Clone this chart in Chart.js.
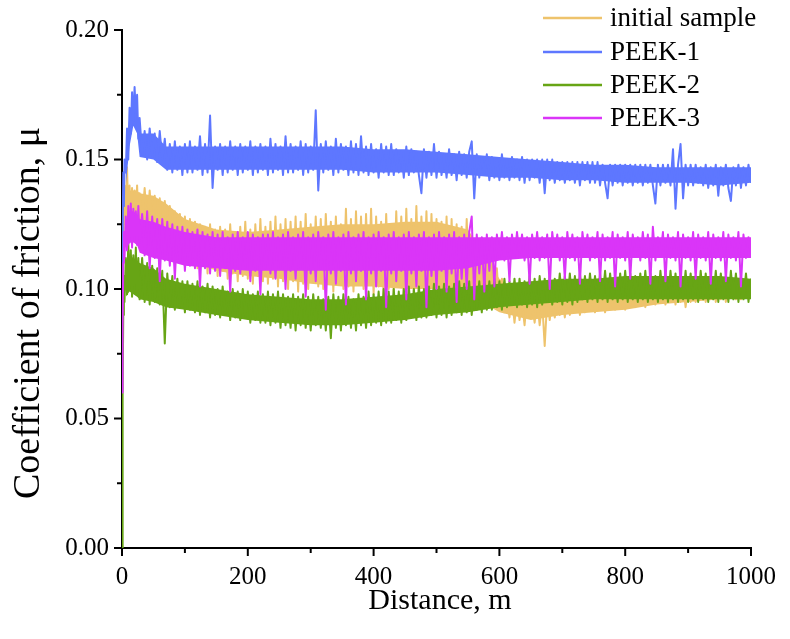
<!DOCTYPE html>
<html>
<head>
<meta charset="utf-8">
<script src="https://cdn.jsdelivr.net/npm/chart.js@4"></script>
<style>
html,body{margin:0;padding:0;background:#fff;}
#wrap{width:790px;height:639px;position:relative;}
</style>
</head>
<body>
<div id="wrap"><canvas id="c" width="790" height="639"></canvas></div>
<script>
const seriesNames = ['initial sample', 'PEEK-1', 'PEEK-2', 'PEEK-3'];
const seriesColors = ['#EEC36C', '#5E77FF', '#67A515', '#DA35F8'];
const xTickLabels = ['0', '200', '400', '600', '800', '1000'];
const yTickLabels = ['0.00', '0.05', '0.10', '0.15', '0.20'];
const xTitle = 'Distance, m';
const yTitle = 'Coefficient of friction, μ';

const distances = [0,1,2,3,4,6,8,10,12,14,16,18,20,22,24,26,
28,32,36,40,44,48,52,56,60,64,
68,72,76,80,84,88,92,96,100,104,
108,112,116,120,124,128,132,136,140,144,
148,152,156,160,164,168,172,176,180,184,
188,192,196,200,204,208,212,216,220,224,
228,232,236,240,244,248,252,256,260,264,
268,272,276,280,284,288,292,296,300,304,
308,312,316,320,324,328,332,336,340,344,
348,352,356,360,364,368,372,376,380,384,
388,392,396,400,404,408,412,416,420,424,
428,432,436,440,444,448,452,456,460,464,
468,472,476,480,484,488,492,496,500,504,
508,512,516,520,524,528,532,536,540,544,
548,552,556,560,564,568,572,576,580,584,
588,592,596,600,604,608,612,616,620,624,
628,632,636,640,644,648,652,656,660,664,
668,672,676,680,684,688,692,696,700,704,
708,712,716,720,724,728,732,736,740,744,
748,752,756,760,764,768,772,776,780,784,
788,792,796,800,804,808,812,816,820,824,
828,832,836,840,844,848,852,856,860,864,
868,872,876,880,884,888,892,896,900,904,
908,912,916,920,924,928,932,936,940,944,
948,952,956,960,964,968,972,976,980,984,
988,992,996,1000];

const initialSample = [0.082,0.095,0.115,0.130,0.140,0.125,0.147,0.128,0.140,0.126,0.139,0.127,0.138,0.128,0.140,0.127,
0.137,0.126,0.139,0.125,0.138,0.124,0.136,0.123,0.135,0.122,
0.134,0.120,0.132,0.118,0.130,0.116,0.129,0.113,0.128,0.111,
0.127,0.110,0.126,0.108,0.125,0.110,0.124,0.106,0.125,0.108,
0.123,0.105,0.124,0.107,0.123,0.104,0.125,0.106,0.122,0.103,
0.124,0.105,0.126,0.104,0.123,0.102,0.125,0.105,0.127,0.103,
0.124,0.102,0.126,0.104,0.128,0.101,0.125,0.103,0.127,0.100,
0.126,0.103,0.128,0.099,0.126,0.102,0.129,0.100,0.125,0.103,
0.128,0.101,0.127,0.100,0.129,0.104,0.126,0.099,0.128,0.102,
0.125,0.100,0.131,0.101,0.127,0.099,0.130,0.103,0.128,0.100,
0.129,0.102,0.131,0.098,0.128,0.101,0.126,0.097,0.129,0.100,
0.125,0.099,0.130,0.101,0.128,0.098,0.131,0.100,0.127,0.099,
0.132,0.098,0.128,0.101,0.130,0.097,0.129,0.100,0.127,0.099,
0.126,0.098,0.128,0.096,0.127,0.099,0.125,0.097,0.124,0.096,
0.127,0.098,0.118,0.095,0.117,0.094,0.115,0.096,0.113,0.093,
0.110,0.094,0.108,0.092,0.104,0.091,0.098,0.089,0.097,0.087,
0.096,0.088,0.095,0.086,0.097,0.089,0.094,0.087,0.096,0.086,
0.095,0.078,0.096,0.088,0.097,0.089,0.096,0.090,0.097,0.089,
0.097,0.090,0.098,0.091,0.097,0.090,0.098,0.091,0.098,0.092,
0.099,0.091,0.098,0.092,0.099,0.091,0.099,0.093,0.100,0.092,
0.099,0.093,0.100,0.092,0.099,0.094,0.101,0.093,0.100,0.094,
0.101,0.093,0.100,0.095,0.101,0.094,0.100,0.095,0.101,0.094,
0.101,0.095,0.102,0.094,0.101,0.095,0.102,0.093,0.101,0.095,
0.102,0.095,0.101,0.096,0.102,0.095,0.101,0.096,0.102,0.095,
0.101,0.096,0.102,0.095,0.101,0.097,0.102,0.096,0.101,0.096,
0.102,0.097,0.101,0.097];

const peek1 = [0.080,0.120,0.145,0.132,0.150,0.145,0.162,0.150,0.170,0.160,0.176,0.165,0.178,0.168,0.175,0.158,
0.166,0.152,0.161,0.150,0.162,0.151,0.160,0.149,0.161,0.150,
0.158,0.146,0.156,0.145,0.157,0.146,0.155,0.144,0.156,0.145,
0.157,0.145,0.155,0.146,0.159,0.144,0.156,0.145,0.167,0.139,
0.155,0.146,0.156,0.144,0.155,0.145,0.157,0.146,0.155,0.144,
0.156,0.145,0.155,0.146,0.157,0.144,0.155,0.145,0.156,0.146,
0.155,0.144,0.158,0.145,0.156,0.146,0.155,0.144,0.159,0.145,
0.156,0.145,0.155,0.146,0.157,0.144,0.156,0.145,0.155,0.146,
0.169,0.138,0.156,0.145,0.157,0.146,0.155,0.144,0.158,0.145,
0.156,0.146,0.155,0.144,0.157,0.145,0.156,0.144,0.159,0.145,
0.155,0.144,0.156,0.145,0.154,0.143,0.156,0.145,0.155,0.144,
0.156,0.144,0.154,0.145,0.153,0.143,0.155,0.144,0.154,0.145,
0.153,0.144,0.137,0.154,0.143,0.153,0.144,0.156,0.143,0.153,
0.144,0.152,0.143,0.154,0.144,0.152,0.142,0.153,0.144,0.152,
0.143,0.153,0.157,0.135,0.152,0.143,0.151,0.144,0.152,0.142,
0.151,0.143,0.150,0.142,0.152,0.143,0.150,0.142,0.151,0.143,
0.150,0.142,0.151,0.141,0.150,0.142,0.150,0.143,0.150,0.141,
0.150,0.137,0.150,0.142,0.150,0.141,0.149,0.142,0.149,0.141,
0.149,0.142,0.149,0.141,0.149,0.140,0.149,0.142,0.149,0.141,
0.149,0.141,0.149,0.140,0.148,0.141,0.135,0.148,0.140,0.148,
0.141,0.148,0.140,0.148,0.141,0.148,0.140,0.148,0.141,0.148,
0.140,0.148,0.141,0.148,0.140,0.133,0.148,0.140,0.148,0.141,
0.148,0.140,0.154,0.131,0.148,0.156,0.135,0.148,0.140,0.148,
0.140,0.148,0.141,0.147,0.140,0.148,0.139,0.147,0.140,0.148,
0.136,0.147,0.140,0.148,0.139,0.134,0.147,0.140,0.148,0.139,
0.147,0.140,0.148,0.141];

const peek2 = [0.000,0.060,0.090,0.105,0.095,0.112,0.098,0.118,0.100,0.115,0.097,0.113,0.099,0.116,0.098,0.112,
0.096,0.112,0.095,0.110,0.094,0.109,0.095,0.108,0.094,0.107,
0.079,0.106,0.093,0.105,0.092,0.104,0.093,0.103,0.091,0.103,
0.092,0.102,0.091,0.103,0.090,0.101,0.091,0.102,0.089,0.101,
0.090,0.100,0.089,0.101,0.090,0.099,0.088,0.100,0.089,0.099,
0.088,0.100,0.089,0.099,0.087,0.098,0.088,0.099,0.087,0.098,
0.087,0.099,0.086,0.098,0.087,0.099,0.085,0.098,0.086,0.097,
0.085,0.098,0.084,0.097,0.086,0.098,0.085,0.097,0.084,0.098,
0.086,0.097,0.085,0.096,0.084,0.097,0.081,0.098,0.085,0.097,
0.084,0.098,0.086,0.097,0.085,0.096,0.084,0.098,0.086,0.097,
0.085,0.099,0.086,0.098,0.087,0.099,0.086,0.100,0.087,0.099,
0.087,0.100,0.088,0.099,0.087,0.100,0.088,0.101,0.089,0.100,
0.088,0.101,0.089,0.100,0.089,0.101,0.090,0.102,0.089,0.101,
0.090,0.102,0.089,0.101,0.090,0.102,0.091,0.103,0.090,0.102,
0.091,0.103,0.090,0.102,0.092,0.103,0.091,0.104,0.092,0.103,
0.092,0.104,0.093,0.103,0.092,0.104,0.093,0.103,0.094,0.104,
0.093,0.104,0.094,0.103,0.093,0.105,0.094,0.104,0.093,0.105,
0.094,0.104,0.095,0.105,0.094,0.104,0.095,0.106,0.094,0.105,
0.095,0.106,0.094,0.105,0.095,0.106,0.096,0.105,0.095,0.106,
0.096,0.105,0.095,0.106,0.096,0.107,0.095,0.106,0.096,0.105,
0.095,0.106,0.096,0.107,0.095,0.106,0.096,0.105,0.095,0.106,
0.096,0.107,0.095,0.106,0.096,0.105,0.095,0.107,0.096,0.106,
0.095,0.107,0.096,0.106,0.095,0.105,0.096,0.107,0.095,0.106,
0.096,0.105,0.095,0.107,0.096,0.106,0.095,0.105,0.096,0.107,
0.095,0.106,0.096,0.105,0.095,0.107,0.096,0.106,0.095,0.105,
0.096,0.106,0.095,0.104];

const peek3 = [0.060,0.085,0.110,0.122,0.112,0.128,0.115,0.132,0.118,0.133,0.116,0.131,0.119,0.130,0.117,0.132,
0.118,0.129,0.113,0.130,0.108,0.128,0.112,0.127,0.103,0.127,
0.111,0.126,0.109,0.125,0.104,0.124,0.110,0.124,0.107,0.123,
0.109,0.122,0.108,0.123,0.101,0.122,0.108,0.121,0.106,0.122,
0.107,0.121,0.105,0.122,0.108,0.120,0.099,0.121,0.107,0.122,
0.106,0.120,0.108,0.122,0.103,0.121,0.107,0.120,0.098,0.121,
0.108,0.121,0.106,0.122,0.104,0.120,0.108,0.121,0.100,0.122,
0.107,0.120,0.104,0.121,0.108,0.122,0.097,0.120,0.106,0.121,
0.103,0.122,0.108,0.120,0.092,0.121,0.106,0.122,0.102,0.120,
0.107,0.121,0.094,0.122,0.106,0.120,0.103,0.121,0.107,0.122,
0.096,0.120,0.106,0.121,0.101,0.122,0.107,0.120,0.093,0.121,
0.106,0.122,0.103,0.120,0.107,0.121,0.096,0.122,0.106,0.120,
0.101,0.121,0.107,0.122,0.093,0.120,0.105,0.121,0.100,0.122,
0.107,0.120,0.099,0.121,0.106,0.122,0.095,0.120,0.104,0.121,
0.100,0.122,0.128,0.096,0.121,0.106,0.120,0.099,0.121,0.107,
0.120,0.101,0.121,0.112,0.122,0.111,0.120,0.103,0.121,0.112,
0.122,0.113,0.121,0.111,0.120,0.102,0.121,0.112,0.122,0.111,
0.120,0.112,0.121,0.100,0.122,0.113,0.121,0.111,0.120,0.104,
0.122,0.112,0.121,0.111,0.120,0.102,0.122,0.113,0.121,0.111,
0.120,0.112,0.122,0.103,0.121,0.111,0.120,0.112,0.122,0.101,
0.121,0.112,0.120,0.111,0.122,0.104,0.121,0.113,0.120,0.111,
0.122,0.112,0.121,0.102,0.124,0.111,0.120,0.113,0.122,0.103,
0.121,0.112,0.120,0.111,0.122,0.101,0.121,0.112,0.120,0.111,
0.122,0.104,0.121,0.112,0.120,0.111,0.122,0.102,0.121,0.112,
0.120,0.111,0.122,0.103,0.121,0.112,0.120,0.111,0.122,0.101,
0.121,0.112,0.120,0.113];

// dense-noise band of each trace (upper / lower edge of the solid part)
const bandDistances = [6,12,18,24,28,50,70,100,150,200,250,300,350,400,450,500,550,600,650,700,750,800,850,900,950,1000];
const initialSampleBandHigh = [0.135,0.138,0.138,0.138,0.137,0.136,0.133,0.127,0.123,0.122,0.123,0.124,0.125,0.125,0.126,0.126,0.123,0.104,0.095,0.096,0.097,0.098,0.099,0.100,0.100,0.100];
const initialSampleBandLow  = [0.126,0.128,0.128,0.127,0.124,0.123,0.120,0.112,0.107,0.105,0.104,0.102,0.101,0.101,0.100,0.100,0.098,0.091,0.088,0.090,0.091,0.092,0.094,0.095,0.096,0.097];
const peek1BandHigh = [0.150,0.168,0.174,0.170,0.160,0.160,0.155,0.155,0.155,0.155,0.155,0.155,0.155,0.154,0.154,0.153,0.152,0.151,0.150,0.149,0.148,0.148,0.147,0.147,0.147,0.147];
const peek1BandLow  = [0.140,0.155,0.163,0.160,0.151,0.150,0.146,0.146,0.146,0.146,0.146,0.146,0.146,0.145,0.145,0.145,0.144,0.143,0.143,0.142,0.142,0.141,0.141,0.141,0.140,0.141];
const peek2BandHigh = [0.110,0.113,0.112,0.111,0.110,0.108,0.104,0.102,0.100,0.098,0.097,0.096,0.096,0.097,0.098,0.100,0.101,0.102,0.103,0.104,0.104,0.105,0.105,0.105,0.105,0.104];
const peek2BandLow  = [0.097,0.099,0.098,0.097,0.096,0.095,0.093,0.092,0.090,0.088,0.087,0.086,0.086,0.087,0.088,0.090,0.091,0.093,0.094,0.095,0.096,0.096,0.096,0.096,0.096,0.096];
const peek3BandHigh = [0.126,0.130,0.130,0.129,0.127,0.126,0.124,0.122,0.120,0.120,0.120,0.120,0.120,0.120,0.120,0.120,0.120,0.120,0.120,0.120,0.120,0.120,0.120,0.120,0.120,0.120];
const peek3BandLow  = [0.114,0.118,0.118,0.117,0.114,0.112,0.111,0.109,0.108,0.107,0.107,0.107,0.107,0.107,0.107,0.107,0.108,0.111,0.112,0.112,0.112,0.112,0.112,0.112,0.112,0.112];

const seriesValues = [initialSample, peek1, peek2, peek3];
const bandHigh = [initialSampleBandHigh, peek1BandHigh, peek2BandHigh, peek3BandHigh];
const bandLow = [initialSampleBandLow, peek1BandLow, peek2BandLow, peek3BandLow];

const datasets = [];
seriesValues.forEach((vals, i) => {
  const base = (4 - i) * 3;
  datasets.push({
    label: seriesNames[i] + ' band top',
    data: bandHigh[i].map((v, j) => ({ x: bandDistances[j], y: v })),
    borderWidth: 0, pointRadius: 0, tension: 0,
    backgroundColor: seriesColors[i],
    fill: '+1',
    order: base
  });
  datasets.push({
    label: seriesNames[i] + ' band bottom',
    data: bandLow[i].map((v, j) => ({ x: bandDistances[j], y: v })),
    borderWidth: 0, pointRadius: 0, tension: 0,
    fill: false,
    order: base - 1
  });
  datasets.push({
    label: seriesNames[i],
    data: vals.map((v, j) => ({ x: distances[j], y: v })),
    borderColor: seriesColors[i],
    borderWidth: 2,
    borderJoinStyle: 'round',
    pointRadius: 0,
    tension: 0,
    fill: false,
    order: base - 2
  });
});

const FONT = '"Liberation Serif", "Times New Roman", serif';

const axisDecor = {
  id: 'axisDecor',
  afterDraw(chart) {
    const ctx = chart.ctx;
    ctx.save();
    ctx.strokeStyle = '#000';
    ctx.lineWidth = 2;
    const xs = chart.scales.x, ys = chart.scales.y;
    xs.ticks.forEach((t, i) => {
      const p = xs.getPixelForValue(t.value);
      const len = (i % 2 === 0) ? 8 : 5;
      ctx.beginPath();
      ctx.moveTo(p, xs.top);
      ctx.lineTo(p, xs.top + len);
      ctx.stroke();
    });
    ys.ticks.forEach((t, i) => {
      const p = ys.getPixelForValue(t.value);
      const len = (i % 2 === 0) ? 8 : 5;
      ctx.beginPath();
      ctx.moveTo(ys.right, p);
      ctx.lineTo(ys.right - len, p);
      ctx.stroke();
    });
    ctx.fillStyle = '#000';
    ctx.textAlign = 'center';
    ctx.textBaseline = 'alphabetic';
    ctx.font = '30px ' + FONT;
    ctx.fillText(xTitle, 440, 609);
    ctx.translate(39, 313);
    ctx.rotate(-Math.PI / 2);
    ctx.font = '38px ' + FONT;
    ctx.fillText(yTitle, 0, 0);
    ctx.restore();
  }
};

const customLegend = {
  id: 'customLegend',
  afterDraw(chart) {
    const ctx = chart.ctx;
    ctx.save();
    const rows = [18, 52, 85, 118];
    ctx.font = '27px ' + FONT;
    ctx.textBaseline = 'middle';
    ctx.textAlign = 'left';
    ctx.fillStyle = '#000';
    seriesNames.forEach((name, i) => {
      ctx.strokeStyle = seriesColors[i];
      ctx.lineWidth = 2.5;
      ctx.beginPath();
      ctx.moveTo(543, rows[i]);
      ctx.lineTo(602, rows[i]);
      ctx.stroke();
      ctx.fillText(name, 610, rows[i] + 1);
    });
    ctx.restore();
  }
};

new Chart(document.getElementById('c'), {
  type: 'line',
  data: { datasets },
  options: {
    responsive: false,
    animation: false,
    layout: { padding: { left: 0, top: 30, right: 26, bottom: 0 } },
    plugins: { legend: { display: false }, tooltip: { enabled: false }, filler: { propagate: false } },
    scales: {
      x: {
        type: 'linear',
        min: 0, max: 1000,
        grid: { display: false, drawTicks: false },
        border: { display: true, color: '#000', width: 2 },
        ticks: {
          stepSize: 100, autoSkip: false, maxRotation: 0,
          color: '#000', padding: 14,
          font: { family: FONT, size: 25 },
          callback: (v, i) => (i % 2 === 0 ? xTickLabels[i / 2] : '')
        },
        afterFit: (s) => { s.height = 639 - 548; }
      },
      y: {
        type: 'linear',
        min: 0, max: 0.2,
        grid: { display: false, drawTicks: false },
        border: { display: true, color: '#000', width: 2 },
        ticks: {
          stepSize: 0.025, autoSkip: false,
          color: '#000', padding: 13,
          font: { family: FONT, size: 25 },
          callback: (v, i) => (i % 2 === 0 ? yTickLabels[i / 2] : '')
        },
        afterFit: (s) => { s.width = 122; }
      }
    }
  },
  plugins: [axisDecor, customLegend]
});
</script>
</body>
</html>
